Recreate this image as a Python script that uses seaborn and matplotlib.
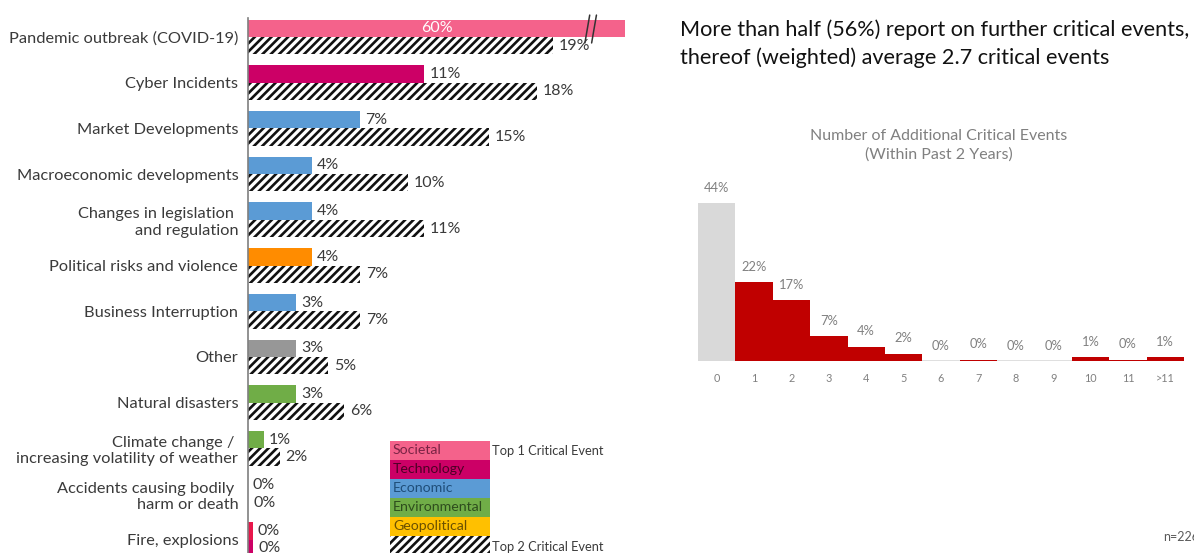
import numpy as np
import pandas as pd
import matplotlib
matplotlib.use("Agg")
import matplotlib.pyplot as plt
import seaborn as sns

sns.set_theme(style="white")
plt.rcParams["font.family"] = ["Lato", "DejaVu Sans"]
plt.rcParams["hatch.linewidth"] = 1.9

# ---- data: most critical events (share of respondents, %) ----
events = [
    "Pandemic outbreak (COVID-19)",
    "Cyber Incidents",
    "Market Developments",
    "Macroeconomic developments",
    "Changes in legislation \nand regulation",
    "Political risks and violence",
    "Business Interruption",
    "Other",
    "Natural disasters",
    "Climate change / \nincreasing volatility of weather",
    "Accidents causing bodily \nharm or death",
    "Fire, explosions",
]
top1_pct = [60, 11, 7, 4, 4, 4, 3, 3, 3, 1, 0, 0.3]
top2_pct = [19, 18, 15, 10, 11, 7, 7, 5, 6, 2, 0, 0.3]

# ---- data: number of additional critical events ----
n_events = ["0", "1", "2", "3", "4", "5", "6", "7", "8", "9", "10", "11", ">11"]
n_events_pct = [44, 22, 17, 7, 4, 2, 0, 0.4, 0, 0, 1, 0.4, 1]

legend_groups = ["Societal", "Technology", "Economic", "Environmental", "Geopolitical"]

# ---- styles ----
PINK, MAGENTA, BLUE, GREEN = "#F4628B", "#CC0066", "#5B9BD5", "#70AD47"
ORANGE, GREY, YELLOW = "#FF8C00", "#979797", "#FFC000"
top1_colors = [PINK, MAGENTA, BLUE, BLUE, BLUE, ORANGE, BLUE, GREY, GREEN, GREEN,
               PINK, "#E8174B"]
legend_colors = [PINK, MAGENTA, BLUE, GREEN, YELLOW]
legend_text_colors = ["#7A2445", "#4D0026", "#1F4E79", "#2E4D1D", "#6B5000"]
TXT = "#3A3A3A"

W, H = 1194, 553
fig = plt.figure(figsize=(W / 100, H / 100), dpi=100)

# ================= left: horizontal bars =================
ax = fig.add_axes([248 / W, 0, (625 - 248) / W, (553 - 18) / H])
df = pd.DataFrame({
    "event": events * 2,
    "pct": top1_pct + top2_pct,
    "rank": ["Top 1"] * len(events) + ["Top 2"] * len(events),
})
sns.barplot(data=df, x="pct", y="event", hue="rank", orient="h", width=0.76,
            dodge=True, errorbar=None, legend=False, saturation=1, ax=ax)

n = len(events)
patches = list(ax.patches)
for i, p in enumerate(patches[:n]):
    p.set_facecolor(top1_colors[i])
    p.set_edgecolor("none")
for i, p in enumerate(patches[n:2 * n]):
    if i == n - 1:
        p.set_facecolor(MAGENTA)
        p.set_edgecolor("none")
    else:
        p.set_facecolor("white")
        p.set_edgecolor("#111111")
        p.set_hatch("////")
        p.set_linewidth(0)

XMAX = 23.5
ax.set_xlim(0, XMAX)
ax.set_ylim(11.29, -0.416)
ax.set_xlabel("")
ax.set_ylabel("")
ax.set_xticks([])
ax.tick_params(axis="y", length=0, pad=7, labelsize=11.8, labelcolor=TXT)
for s in ["top", "right", "bottom"]:
    ax.spines[s].set_visible(False)
ax.spines["left"].set_color("#7F7F7F")
ax.spines["left"].set_linewidth(1.2)

off = 0.19
for i in range(n):
    v1, v2 = top1_pct[i], top2_pct[i]
    if v1 > XMAX:
        ax.text(XMAX / 2, i - off, f"{v1:.0f}%", color="white", fontsize=11.5,
                ha="center", va="center")
    else:
        ax.text(v1 + 0.3, i - off, f"{v1:.0f}%", color=TXT, fontsize=11.5,
                ha="left", va="center")
    ax.text(v2 + 0.35, i + off, f"{v2:.0f}%", color=TXT, fontsize=11.5,
            ha="left", va="center")

# axis break marks on the truncated bar
for dx in (0.0, 0.42):
    ax.plot([21.3 + dx, 21.0 + dx], [-0.48, 0.13], color="#333333", lw=1.1,
            clip_on=False, zorder=5)

# ---- legend block ----
lax = fig.add_axes([390 / W, 0, 100 / W, (553 - 441) / H])
lax.set_xlim(0, 1)
lax.set_ylim(5.9, 0)
lax.axis("off")
for k, (g, c, tc) in enumerate(zip(legend_groups, legend_colors, legend_text_colors)):
    lax.add_patch(plt.Rectangle((0, k), 1, 1, facecolor=c, edgecolor="none"))
    lax.text(0.03, k + 0.5, g, color=tc, fontsize=10.2, va="center", ha="left")
lax.add_patch(plt.Rectangle((0, 5), 1, 1, facecolor="white", edgecolor="#111111",
                            hatch="////", linewidth=0))
fig.text(492 / W, 1 - 451 / H, "Top 1 Critical Event", fontsize=9.3, color=TXT,
         va="center", ha="left")
fig.text(492 / W, 1 - 547 / H, "Top 2 Critical Event", fontsize=9.3, color=TXT,
         va="center", ha="left")

# ================= right: distribution of further events =================
fig.text(680 / W, 1 - 30 / H,
         "More than half (56%) report on further critical events,",
         fontsize=15.6, color="#111111", va="center", ha="left")
fig.text(680 / W, 1 - 58 / H,
         "thereof (weighted) average 2.7 critical events",
         fontsize=15.6, color="#111111", va="center", ha="left")
fig.text(939 / W, 1 - 145 / H,
         "Number of Additional Critical Events\n(Within Past 2 Years)",
         fontsize=11.5, color="#808080", va="center", ha="center",
         linespacing=1.4)

rax = fig.add_axes([698 / W, 1 - 361 / H, (1184 - 698) / W, 171 / H])
sns.barplot(x=n_events, y=n_events_pct, width=1.0, errorbar=None,
            saturation=1, ax=rax)
for k, p in enumerate(rax.patches):
    p.set_facecolor("#D9D9D9" if k == 0 else "#C00000")
    p.set_edgecolor("none")
rax.set_xlim(-0.5, len(n_events) - 0.5)
rax.set_ylim(0, 171 / 3.59)
rax.axhline(0, color="#D9D9D9", lw=1.2, zorder=0)
for k, v in enumerate(n_events_pct):
    rax.text(k, v + 2.6, f"{v:.0f}%", color="#808080", fontsize=9.3,
             ha="center", va="bottom")
rax.set_yticks([])
rax.tick_params(axis="x", length=0, pad=9, labelsize=7.8, labelcolor="#808080")
for s in rax.spines.values():
    s.set_visible(False)

fig.text(1163 / W, 1 - 537 / H, "n=226", fontsize=9, color="#595959",
         va="center", ha="left")

fig.savefig("out.png", dpi=100)
